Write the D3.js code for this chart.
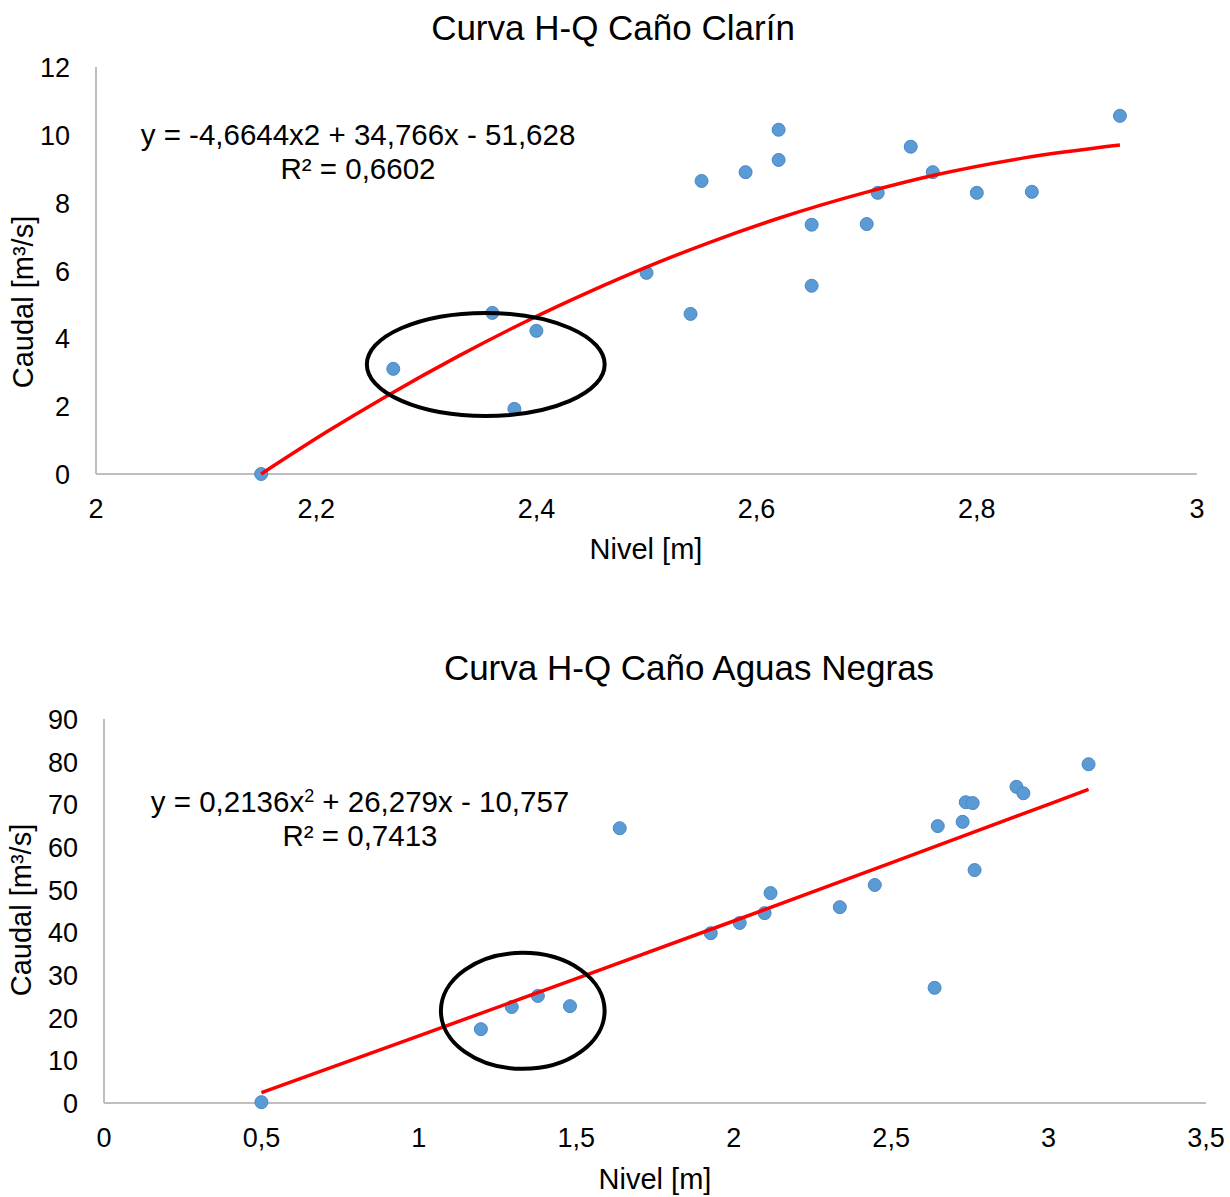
<!DOCTYPE html>
<html>
<head>
<meta charset="utf-8">
<script src="https://cdn.jsdelivr.net/npm/d3@7"></script>
<style>
  body { margin: 0; background: #fff; }
  text { font-family: "Liberation Sans", Arial, sans-serif; fill: #000; }
</style>
</head>
<body>
<div id="graph"></div>
<script>
// Chart 1 - Caño Clarín
let nivel1 = [2.15, 2.27, 2.36, 2.40, 2.38, 2.50, 2.54, 2.55, 2.59, 2.62, 2.62, 2.65, 2.65, 2.70, 2.71, 2.74, 2.76, 2.80, 2.85, 2.93];
let caudal1 = [0, 3.1, 4.75, 4.22, 1.92, 5.93, 4.72, 8.64, 8.9, 10.15, 9.26, 7.35, 5.55, 7.37, 8.29, 9.65, 8.9, 8.29, 8.32, 10.56];
// trend curve
let trendX1 = [2.15, 2.21, 2.263, 2.33, 2.39, 2.45, 2.50, 2.56, 2.62, 2.70, 2.76, 2.843, 2.93];
let trendY1 = [0, 1.25, 2.28, 3.49, 4.49, 5.40, 6.10, 6.86, 7.54, 8.31, 8.80, 9.32, 9.70];
let xTicks1 = [2, 2.2, 2.4, 2.6, 2.8, 3];
let yTicks1 = [0, 2, 4, 6, 8, 10, 12];
let eq1 = "y = -4,6644x2 + 34,766x - 51,628";
let r2_1 = "R² = 0,6602";

// Chart 2 - Caño Aguas Negras
let nivel2 = [0.5, 1.197, 1.295, 1.378, 1.48, 1.638, 1.927, 2.019, 2.098, 2.117, 2.337, 2.448, 2.638, 2.648, 2.727, 2.737, 2.759, 2.765, 2.898, 2.92, 3.127];
let caudal2 = [0.2, 17.3, 22.5, 25.1, 22.7, 64.4, 39.8, 42.2, 44.5, 49.2, 45.9, 51.1, 27.0, 64.9, 65.9, 70.5, 70.3, 54.6, 74.1, 72.6, 79.4];
let trendX2 = [0.5, 1.0, 1.5, 2.0, 2.5, 3.0, 3.127];
let trendY2 = [2.44, 15.74, 29.14, 42.66, 56.28, 70.0, 73.5];
let xTicks2 = [0, 0.5, 1, 1.5, 2, 2.5, 3, 3.5];
let yTicks2 = [0, 10, 20, 30, 40, 50, 60, 70, 80, 90];

const width = 1230, height = 1197;

let svg = d3.select("#graph")
  .append("svg")
  .attr("width", width)
  .attr("height", height);

let fmt = d => String(d).replace(".", ",");

function drawChart(cfg) {
  let g = svg.append("g");

  let x = d3.scaleLinear().domain(cfg.xDomain).range(cfg.xRange);
  let y = d3.scaleLinear().domain(cfg.yDomain).range(cfg.yRange);

  // axes lines (no ticks, Excel style)
  g.append("line")
    .attr("x1", x(cfg.xDomain[0])).attr("x2", x(cfg.xDomain[0]))
    .attr("y1", y(cfg.yDomain[0])).attr("y2", y(cfg.yDomain[1]))
    .attr("stroke", "#bfbfbf").attr("stroke-width", 2);
  g.append("line")
    .attr("x1", x(cfg.xDomain[0])).attr("x2", x(cfg.xDomain[1]))
    .attr("y1", y(cfg.yDomain[0])).attr("y2", y(cfg.yDomain[0]))
    .attr("stroke", "#bfbfbf").attr("stroke-width", 2);

  g.selectAll(".xt").data(cfg.xTicks).enter()
    .append("text")
    .attr("x", d => x(d))
    .attr("y", y(cfg.yDomain[0]) + 44)
    .style("text-anchor", "middle")
    .style("font-size", "27px")
    .text(fmt);

  g.selectAll(".yt").data(cfg.yTicks).enter()
    .append("text")
    .attr("x", x(cfg.xDomain[0]) - 26)
    .attr("y", d => y(d) + 10)
    .style("text-anchor", "end")
    .style("font-size", "27px")
    .text(fmt);

  // title
  g.append("text")
    .attr("x", cfg.titleX).attr("y", cfg.titleY)
    .style("text-anchor", "middle")
    .style("font-size", "35px")
    .text(cfg.title);

  // axis titles
  g.append("text")
    .attr("x", cfg.xLabelX).attr("y", cfg.xLabelY)
    .style("text-anchor", "middle")
    .style("font-size", "29px")
    .text("Nivel [m]");

  g.append("text")
    .attr("transform", `translate(${cfg.yLabelX}, ${cfg.yLabelY}) rotate(-90)`)
    .style("text-anchor", "middle")
    .style("font-size", "29px")
    .text("Caudal [m³/s]");

  // points
  let pts = cfg.xs.map((v, i) => ({x: v, y: cfg.ys[i]}));
  g.selectAll("circle").data(pts).enter()
    .append("circle")
    .attr("cx", d => x(d.x))
    .attr("cy", d => y(d.y))
    .attr("r", 6.5)
    .attr("fill", "#5b9bd5")
    .attr("stroke", "#4a86c2")
    .attr("stroke-width", 1);

  // trend line
  let tr = cfg.tx.map((v, i) => [v, cfg.ty[i]]);
  g.append("path")
    .datum(tr)
    .attr("fill", "none")
    .attr("stroke", "#ff0000")
    .attr("stroke-width", 3.5)
    .attr("d", d3.line().x(d => x(d[0])).y(d => y(d[1])).curve(d3.curveMonotoneX));

  // equation
  let eq = g.append("text")
    .attr("x", cfg.eqX).attr("y", cfg.eqY)
    .style("text-anchor", "middle")
    .style("font-size", "29.5px");
  cfg.eqParts.forEach(p => {
    let s = eq.append("tspan").text(p.t);
    if (p.sup) s.attr("dy", -10).style("font-size", "18px");
    if (p.after) s.attr("dy", 10);
  });
  g.append("text")
    .attr("x", cfg.eqX).attr("y", cfg.eqY + 34)
    .style("text-anchor", "middle")
    .style("font-size", "29.5px")
    .text(cfg.r2);

  // highlight ellipse
  let e = cfg.ell;
  g.append("ellipse")
    .attr("cx", x(e[0])).attr("cy", y(e[1]))
    .attr("rx", x(e[0] + e[2]) - x(e[0]))
    .attr("ry", y(e[1]) - y(e[1] + e[3]))
    .attr("fill", "none")
    .attr("stroke", "#000")
    .attr("stroke-width", 4);
}

drawChart({
  xDomain: [2, 3], yDomain: [0, 12],
  xRange: [96, 1197], yRange: [474, 67],
  xTicks: xTicks1, yTicks: yTicks1,
  xs: nivel1, ys: caudal1, tx: trendX1, ty: trendY1,
  title: "Curva H-Q Caño Clarín", titleX: 613, titleY: 40,
  xLabelX: 646, xLabelY: 559, yLabelX: 33, yLabelY: 302,
  eqParts: [{t: eq1}], r2: r2_1, eqX: 358, eqY: 145,
  ell: [2.354, 3.23, 0.108, 1.52]
});

drawChart({
  xDomain: [0, 3.5], yDomain: [0, 90],
  xRange: [104, 1206], yRange: [1103, 719],
  xTicks: xTicks2, yTicks: yTicks2,
  xs: nivel2, ys: caudal2, tx: trendX2, ty: trendY2,
  title: "Curva H-Q Caño Aguas Negras", titleX: 689, titleY: 680,
  xLabelX: 655, xLabelY: 1189, yLabelX: 31, yLabelY: 910,
  eqParts: [{t: "y = 0,2136x"}, {t: "2", sup: true}, {t: " + 26,279x - 10,757", after: true}],
  r2: "R² = 0,7413", eqX: 360, eqY: 812,
  ell: [1.330, 21.6, 0.26, 13.6]
});
</script>
</body>
</html>
